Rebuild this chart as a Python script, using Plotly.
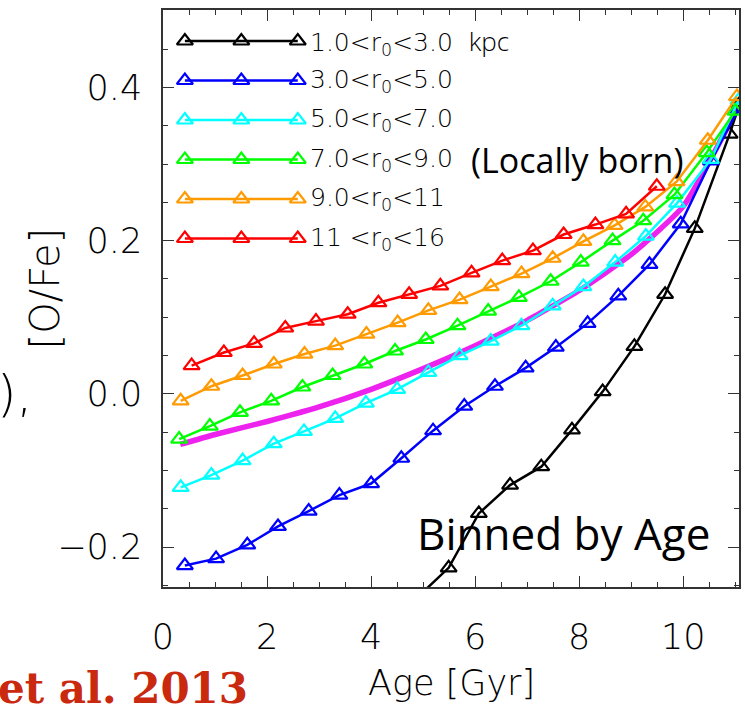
import plotly.graph_objects as go

# ---- [O/Fe] versus stellar age, binned by age, for stars grouped by birth radius r0 ----
age_r1_3 = [4.85, 5.49, 6.07, 6.67, 7.27, 7.86, 8.45, 9.06, 9.65, 10.22, 10.89, 11.08]
ofe_r1_3 = [-0.268, -0.227, -0.156, -0.119, -0.095, -0.047, 0.003, 0.062, 0.130, 0.216, 0.339, 0.378]

age_r3_5 = [0.42, 1.02, 1.62, 2.21, 2.80, 3.39, 4.00, 4.58, 5.19, 5.79, 6.38, 6.97, 7.55,
            8.16, 8.75, 9.35, 9.95, 10.53, 11.06]
ofe_r3_5 = [-0.224, -0.215, -0.197, -0.173, -0.153, -0.132, -0.117, -0.084, -0.048, -0.016,
            0.010, 0.034, 0.061, 0.092, 0.128, 0.169, 0.222, 0.304, 0.372]

age_r5_7 = [0.34, 0.93, 1.53, 2.13, 2.71, 3.31, 3.90, 4.50, 5.10, 5.70, 6.30, 6.89, 7.49,
            8.08, 8.69, 9.28, 9.88, 10.53, 11.06]
ofe_r5_7 = [-0.122, -0.106, -0.087, -0.065, -0.049, -0.032, -0.012, 0.006, 0.028, 0.050,
            0.069, 0.089, 0.115, 0.140, 0.172, 0.206, 0.249, 0.306, 0.383]

age_r7_9 = [0.31, 0.90, 1.48, 2.08, 2.68, 3.26, 3.87, 4.46, 5.05, 5.66, 6.25, 6.84, 7.45,
            8.03, 8.64, 9.23, 9.83, 10.45, 11.00]
ofe_r7_9 = [-0.059, -0.042, -0.024, -0.009, 0.009, 0.024, 0.039, 0.056, 0.071, 0.089,
            0.108, 0.126, 0.147, 0.172, 0.200, 0.226, 0.260, 0.315, 0.369]

age_r9_11 = [0.34, 0.93, 1.53, 2.13, 2.72, 3.31, 3.91, 4.51, 5.10, 5.70, 6.30, 6.89, 7.49,
             8.08, 8.68, 9.27, 9.87, 10.47, 11.03]
ofe_r9_11 = [-0.009, 0.010, 0.024, 0.039, 0.052, 0.063, 0.078, 0.093, 0.109, 0.123,
             0.140, 0.157, 0.177, 0.199, 0.220, 0.244, 0.277, 0.331, 0.388]

age_r11_16 = [0.55, 1.17, 1.75, 2.35, 2.94, 3.55, 4.14, 4.73, 5.33, 5.93, 6.52, 7.11,
              7.70, 8.31, 8.90, 9.49]
ofe_r11_16 = [0.037, 0.054, 0.066, 0.086, 0.095, 0.104, 0.119, 0.130, 0.141, 0.158,
              0.174, 0.187, 0.208, 0.221, 0.235, 0.271]

# solar-neighbourhood reference relation (thick magenta curve)
age_ref = [0.33, 1.0, 2.0, 3.0, 4.0, 5.0, 6.0, 7.0, 8.0, 9.0, 10.0, 11.06]
ofe_ref = [-0.066, -0.053, -0.036, -0.017, 0.006, 0.033, 0.063, 0.096, 0.135, 0.182, 0.245, 0.375]

series_names = ["1.0&lt;r<sub>0</sub>&lt;3.0",
                "3.0&lt;r<sub>0</sub>&lt;5.0",
                "5.0&lt;r<sub>0</sub>&lt;7.0",
                "7.0&lt;r<sub>0</sub>&lt;9.0",
                "9.0&lt;r<sub>0</sub>&lt;11",
                "11 &lt;r<sub>0</sub>&lt;16"]
series_colors = ["#000000", "#0000ff", "#00ffff", "#00ff00", "#ff9a00", "#ff0000"]
series_ages = [age_r1_3, age_r3_5, age_r5_7, age_r7_9, age_r9_11, age_r11_16]
series_ofe = [ofe_r1_3, ofe_r3_5, ofe_r5_7, ofe_r7_9, ofe_r9_11, ofe_r11_16]

x_ticks = [0, 2, 4, 6, 8, 10]
y_ticks = [-0.2, 0.0, 0.2, 0.4]

W, H = 745, 709
L, R, T, B = 163, 4, 10, 122
PW, PH = W - L - R, H - T - B
AXIS_FONT = dict(family="DejaVu Sans", size=35, color="#000000", weight=200)
LEG_FONT = dict(family="DejaVu Sans", size=25, color="#000000", weight=200)
FRAME = "#333333"


def px_x(p):
    """pixel column -> paper x (fraction of plot area)"""
    return (p - L) / PW


def px_y(p):
    """pixel row -> paper y (fraction of plot area)"""
    return 1 - (p - T) / PH


fig = go.Figure()

fig.add_trace(go.Scatter(x=age_ref, y=ofe_ref, mode="lines", showlegend=False,
                         line=dict(color="#ee22ee", width=5.5, shape="spline", smoothing=0.5)))

for ages, ofe, col in zip(series_ages, series_ofe, series_colors):
    fig.add_trace(go.Scatter(
        x=ages, y=ofe, mode="lines+markers", showlegend=False,
        line=dict(color=col, width=2.5),
        marker=dict(symbol="triangle-up-open", size=14, color=col, line=dict(width=2.2, color=col)),
    ))

# key drawn inside the frame on an overlay axis spanning the plot area (0..1 both ways)
key_x = [0.038, 0.136, 0.234]
key_top = px_y(41)
key_step = 39.5 / PH
for i, (name, col) in enumerate(zip(series_names, series_colors)):
    yk = key_top - i * key_step
    fig.add_trace(go.Scatter(
        x=key_x, y=[yk] * 3, xaxis="x2", yaxis="y2", mode="lines+markers", showlegend=False,
        line=dict(color=col, width=2.5),
        marker=dict(symbol="triangle-up-open", size=14, color=col, line=dict(width=2.2, color=col)),
        hoverinfo="skip",
    ))
    label = name
    if i == 0:
        label += '&nbsp;&nbsp;<span style="font-family:Open Sans;font-size:26px">kpc</span>'
    fig.add_annotation(x=0.251, y=yk, xref="x2", yref="y2", text=label, showarrow=False,
                       xanchor="left", yanchor="middle", font=LEG_FONT)
    if i == 3:
        fig.add_annotation(x=px_x(470), y=yk, xref="x2", yref="y2",
                           text="(Locally born)", showarrow=False, xanchor="left",
                           yanchor="middle",
                           font=dict(family="Open Sans", size=34, color="#000000"))

fig.add_annotation(x=px_x(565), y=px_y(533), xref="paper", yref="paper",
                   text="Binned by Age", showarrow=False, xanchor="center", yanchor="middle",
                   font=dict(family="Open Sans", size=44, color="#000000"))

# axis titles
fig.add_annotation(x=px_x(453), y=px_y(683), xref="paper", yref="paper", text="Age [Gyr]",
                   showarrow=False, xanchor="center", yanchor="middle", font=AXIS_FONT)
fig.add_annotation(x=px_x(45), y=px_y(288), xref="paper", yref="paper", text="[O/Fe]",
                   textangle=-90, showarrow=False, xanchor="center", yanchor="middle",
                   font=dict(family="DejaVu Sans", size=40, color="#000000", weight=200))

# slide fragments at the left edge
fig.add_annotation(x=px_x(34), y=px_y(394), xref="paper", yref="paper", text="),",
                   showarrow=False, xanchor="right", yanchor="middle",
                   font=dict(family="DejaVu Sans", size=50, color="#000000", weight=200))
fig.add_annotation(x=px_x(250), y=px_y(688), xref="paper", yref="paper", text="et al. 2013",
                   showarrow=False, xanchor="right", yanchor="middle",
                   font=dict(family="DejaVu Serif", size=42, color="#c9290f", weight="bold"))

axis_common = dict(showline=True, linecolor=FRAME, linewidth=1.6, mirror="allticks",
                   ticks="inside", tickcolor=FRAME, tickwidth=1.3, showgrid=False,
                   zeroline=False, tickfont=AXIS_FONT)

fig.update_layout(
    width=W, height=H,
    margin=dict(l=L, r=R, t=T, b=B),
    paper_bgcolor="white", plot_bgcolor="white",
    xaxis=dict(range=[0, 11.07], tickvals=x_ticks, ticklen=11, ticklabelstandoff=18,
               minor=dict(dtick=0.5, ticklen=5, ticks="inside", tickcolor=FRAME, tickwidth=1.3),
               **axis_common),
    yaxis=dict(range=[-0.252, 0.501], tickvals=y_ticks, tickformat=".1f", ticklen=11,
               ticklabelstandoff=12,
               minor=dict(dtick=0.05, ticklen=5, ticks="inside", tickcolor=FRAME, tickwidth=1.3),
               **axis_common),
    xaxis2=dict(range=[0, 1], overlaying="x", visible=False, fixedrange=True),
    yaxis2=dict(range=[0, 1], overlaying="y", visible=False, fixedrange=True),
)

fig.write_html("out.html")
